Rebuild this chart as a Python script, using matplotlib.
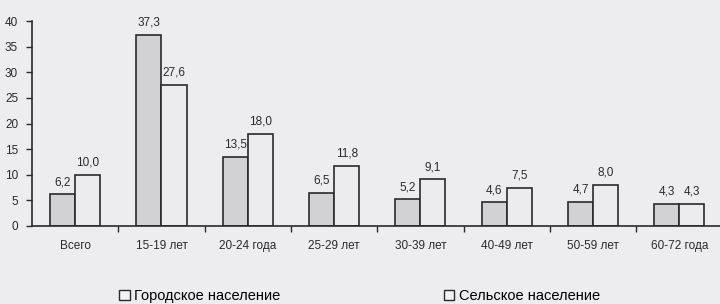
import numpy as np
import matplotlib
matplotlib.use("Agg")
import matplotlib.pyplot as plt
from matplotlib.patches import Patch

# age groups and shares (%) for urban / rural population
categories = ["Всего", "15-19 лет", "20-24 года", "25-29 лет",
              "30-39 лет", "40-49 лет", "50-59 лет", "60-72 года"]
urban = [6.2, 37.3, 13.5, 6.5, 5.2, 4.6, 4.7, 4.3]
rural = [10.0, 27.6, 18.0, 11.8, 9.1, 7.5, 8.0, 4.3]
series_names = ["Городское население", "Сельское население"]

plt.rcParams['font.family'] = ['Liberation Sans', 'DejaVu Sans']

bg = '#ededf0'
ink = '#2a2a2a'
fig = plt.figure(figsize=(7.2, 3.04), dpi=100, facecolor=bg)
ax = fig.add_axes([32/720, 78/304, 688/720, 205/304])
ax.set_facecolor(bg)

x = np.arange(len(categories))
w = 0.29
b1 = ax.bar(x - w/2, urban, w, color='#d2d2d4', edgecolor=ink, linewidth=1.2)
b2 = ax.bar(x + w/2, rural, w, color='#ececee', edgecolor=ink, linewidth=1.2)

fmt = lambda v: f"{v:.1f}".replace('.', ',')
for bars, vals in ((b1, urban), (b2, rural)):
    for r, v in zip(bars, vals):
        ax.text(r.get_x() + r.get_width()/2, v + 1.2, fmt(v), ha='center', va='bottom',
                fontsize=8.5, color=ink)

ax.set_xlim(-0.5, 7.47)
ax.set_ylim(0, 40)
ax.set_yticks(range(0, 41, 5))
ax.set_xticks(x)
ax.set_xticklabels(categories, fontsize=8.5, color=ink)
ax.set_xticks(np.arange(0.5, 7.5, 1), minor=True)
ax.tick_params(axis='x', which='major', length=0, pad=10)
ax.tick_params(axis='x', which='minor', length=4, color=ink, width=1)
ax.tick_params(axis='y', length=4, color=ink, width=1, labelsize=8.5, labelcolor=ink, pad=6)

for s in ('top', 'right'):
    ax.spines[s].set_visible(False)
for s in ('left', 'bottom'):
    ax.spines[s].set_color(ink)
    ax.spines[s].set_linewidth(1.2)

h1 = Patch(facecolor='#f2f2f3', edgecolor=ink, linewidth=1)
fig.legend([h1], [series_names[0]], loc='center left', bbox_to_anchor=(112/720, 1 - 296/304),
           frameon=False, fontsize=10.5, handlelength=0.7, handleheight=0.7, handletextpad=0.3,
           borderpad=0)
fig.legend([h1], [series_names[1]], loc='center left', bbox_to_anchor=(437/720, 1 - 296/304),
           frameon=False, fontsize=10.5, handlelength=0.7, handleheight=0.7, handletextpad=0.3,
           borderpad=0)

fig.savefig("out.png", dpi=100, facecolor=bg)
